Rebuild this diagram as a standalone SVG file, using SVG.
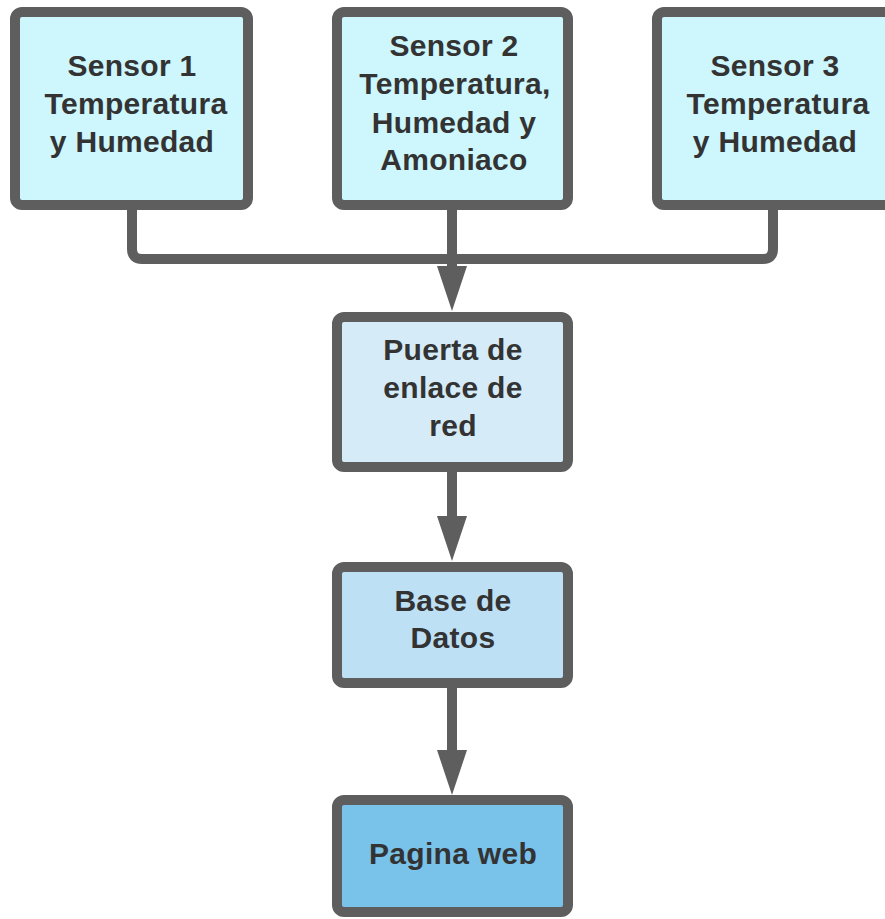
<svg xmlns="http://www.w3.org/2000/svg" width="885" height="919" viewBox="0 0 885 919">
<style>
.box{stroke:#5e5e5e;stroke-width:10;}
.lbl{font-family:"Liberation Sans",Arial,sans-serif;font-weight:bold;font-size:30px;letter-spacing:0.3px;fill:#333333;text-anchor:middle;}
.wire{fill:none;stroke:#5e5e5e;stroke-width:10;}
.head{fill:#5e5e5e;}
</style>
<rect width="885" height="919" fill="#ffffff"/>
<g id="connectors">
<path class="wire" d="M132 210 V249 Q132 259 142 259 H763 Q773 259 773 249 V210"/>
<path class="wire" d="M452 210 V270"/>
<polygon class="head" points="437,266 467,266 452,311"/>
<path class="wire" d="M452 472 V520"/>
<polygon class="head" points="437,516 467,516 452,561"/>
<path class="wire" d="M452 688 V754"/>
<polygon class="head" points="437,750 467,750 452,795"/>
</g>
<g id="sensor1">
<rect class="box" x="15" y="12" width="233" height="193" rx="7" fill="#cdf6fd"/>
<text class="lbl" x="132" y="76">Sensor 1</text>
<text class="lbl" x="136" y="114">Temperatura</text>
<text class="lbl" x="132" y="152">y Humedad</text>
</g>
<g id="sensor2">
<rect class="box" x="337" y="12" width="231" height="193" rx="7" fill="#cdf6fd"/>
<text class="lbl" x="454" y="56">Sensor 2</text>
<text class="lbl" x="455" y="94">Temperatura,</text>
<text class="lbl" x="454" y="133">Humedad y</text>
<text class="lbl" x="454" y="170">Amoniaco</text>
</g>
<g id="sensor3">
<rect class="box" x="657" y="12" width="240" height="193" rx="7" fill="#cdf6fd"/>
<text class="lbl" x="775" y="76">Sensor 3</text>
<text class="lbl" x="778" y="114">Temperatura</text>
<text class="lbl" x="775" y="152">y Humedad</text>
</g>
<g id="puerta">
<rect class="box" x="337" y="317" width="231" height="150" rx="7" fill="#d5ebf8"/>
<text class="lbl" x="453" y="360">Puerta de</text>
<text class="lbl" x="453" y="398">enlace de</text>
<text class="lbl" x="453" y="436">red</text>
</g>
<g id="basedatos">
<rect class="box" x="337" y="567" width="231" height="116" rx="7" fill="#bde0f5"/>
<text class="lbl" x="453" y="611">Base de</text>
<text class="lbl" x="453" y="648">Datos</text>
</g>
<g id="pagina">
<rect class="box" x="337" y="800" width="231" height="112" rx="7" fill="#79c2ea"/>
<text class="lbl" x="453" y="864">Pagina web</text>
</g>
</svg>
